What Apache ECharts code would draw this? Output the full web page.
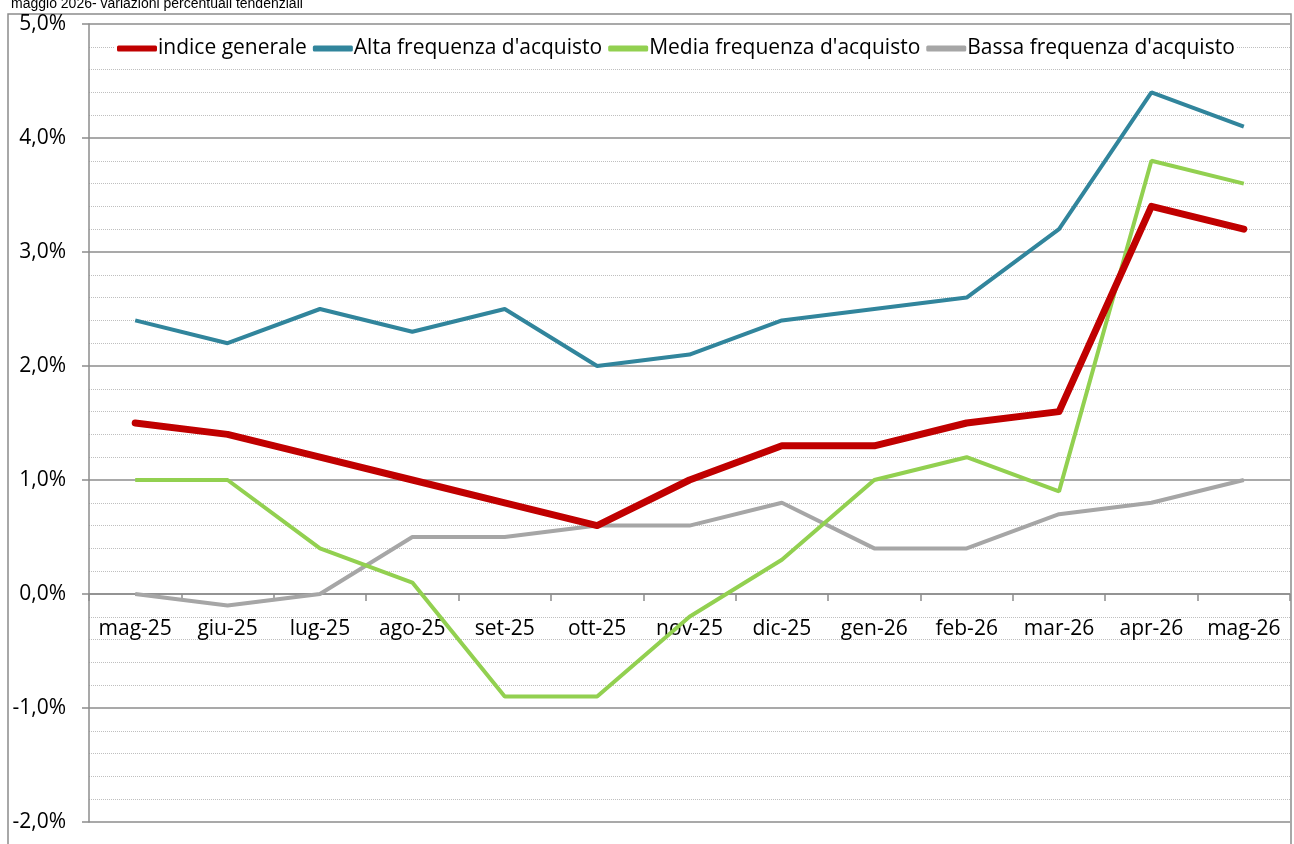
<!DOCTYPE html>
<html>
<head>
<meta charset="utf-8">
<script src="https://cdn.jsdelivr.net/npm/echarts@6/dist/echarts.min.js"></script>
<style>
html,body{margin:0;padding:0;background:#fff;}
#chart{width:1294px;height:844px;}
</style>
</head>
<body>
<div id="chart"></div>
<script>
let mesi = ['mag-25','giu-25','lug-25','ago-25','set-25','ott-25','nov-25','dic-25','gen-26','feb-26','mar-26','apr-26','mag-26'];
let indiceGenerale = [1.5, 1.4, 1.2, 1.0, 0.8, 0.6, 1.0, 1.3, 1.3, 1.5, 1.6, 3.4, 3.2];
let altaFreq = [2.4, 2.2, 2.5, 2.3, 2.5, 2.0, 2.1, 2.4, 2.5, 2.6, 3.2, 4.4, 4.1];
let mediaFreq = [1.0, 1.0, 0.4, 0.1, -0.9, -0.9, -0.2, 0.3, 1.0, 1.2, 0.9, 3.8, 3.6];
let bassaFreq = [0.0, -0.1, 0.0, 0.5, 0.5, 0.6, 0.6, 0.8, 0.4, 0.4, 0.7, 0.8, 1.0];

let font = '"Open Sans", "Noto Sans", sans-serif';
// y: 5% a 24px, -2% a 822px -> lo zero sta a 822 - 2*114
let zeroOffset = -(822 - 24) * 2 / 7;

let option = {
    animation: false,
    title: {
        text: 'maggio 2026- variazioni percentuali tendenziali',
        left: 6, top: -8,
        textStyle: {fontFamily: 'Liberation Sans', fontSize: 14, fontWeight: 'normal', color: '#000'}
    },
    graphic: [{
        type: 'rect',
        shape: {x: 8, y: 14, width: 1283, height: 840},
        style: {fill: 'none', stroke: '#8C8C8C', lineWidth: 1.5},
        silent: true
    }],
    legend: {
        data: ['indice generale', "Alta frequenza d'acquisto", "Media frequenza d'acquisto", "Bassa frequenza d'acquisto"],
        top: 36, left: 115,
        icon: 'roundRect',
        itemWidth: 40, itemHeight: 6, itemGap: 6,
        backgroundColor: '#fff',
        padding: [2, 2],
        textStyle: {fontFamily: font, fontSize: 21, color: '#000', padding: [0, 0, 0, -4]}
    },
    grid: {left: 89, right: 4, top: 24, bottom: 22, outerBoundsMode: 'none'},
    xAxis: {
        type: 'category',
        data: mesi,
        boundaryGap: true,
        position: 'bottom',
        offset: zeroOffset,
        axisLine: {onZero: false, lineStyle: {color: '#8C8C8C', width: 1.5}},
        axisTick: {show: true, length: 7, lineStyle: {color: '#8C8C8C', width: 1.5}},
        axisLabel: {margin: 25, fontFamily: font, fontSize: 21, color: '#000', interval: 0}
    },
    yAxis: {
        type: 'value',
        min: -2, max: 5, interval: 1,
        axisLine: {show: true, lineStyle: {color: '#8C8C8C', width: 1.5}},
        axisTick: {show: true, length: 7, lineStyle: {color: '#8C8C8C', width: 1.5}},
        axisLabel: {
            margin: 23, fontFamily: font, fontSize: 21, color: '#000',
            formatter: function (v) { return v.toFixed(1).replace('.', ',') + '%'; }
        },
        splitLine: {lineStyle: {color: '#8C8C8C', width: 1.5}},
        minorTick: {show: false, splitNumber: 5},
        minorSplitLine: {show: true, lineStyle: {color: '#BFBFBF', type: 'dotted', width: 1}}
    },
    series: [{
        name: "Bassa frequenza d'acquisto", type: 'line', data: bassaFreq,
        symbol: 'none', z: 2,
        lineStyle: {color: '#A6A6A6', width: 4}, itemStyle: {color: '#A6A6A6'}
    }, {
        name: "Media frequenza d'acquisto", type: 'line', data: mediaFreq,
        symbol: 'none', z: 3,
        lineStyle: {color: '#92D050', width: 4}, itemStyle: {color: '#92D050'}
    }, {
        name: "Alta frequenza d'acquisto", type: 'line', data: altaFreq,
        symbol: 'none', z: 4,
        lineStyle: {color: '#31859C', width: 4}, itemStyle: {color: '#31859C'}
    }, {
        name: 'indice generale', type: 'line', data: indiceGenerale,
        symbol: 'none', z: 5,
        lineStyle: {color: '#C00000', width: 7, cap: 'round', join: 'round'}, itemStyle: {color: '#C00000'}
    }]
};

let myChart = echarts.init(document.getElementById('chart'));
myChart.setOption(option);
</script>
</body>
</html>
